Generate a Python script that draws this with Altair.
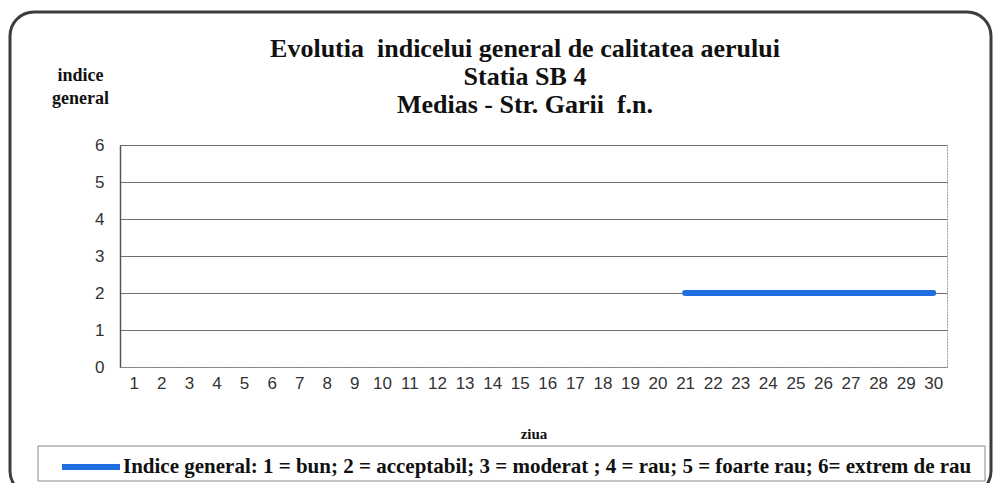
import altair as alt
import pandas as pd

days = list(range(1, 31))
values = [None] * 20 + [2] * 10
series_label = "Indice general: 1 = bun; 2 = acceptabil; 3 = moderat ; 4 = rau; 5 = foarte rau; 6= extrem de rau"
title_lines = ["Evolutia\u00a0 indicelui general de calitatea aerului", "Statia SB 4", "Medias - Str. Garii\u00a0 f.n."]
y_title = ["indice", "general"]
x_title = "ziua"

df = pd.DataFrame({"zi": days, "indice": values, "serie": [series_label] * len(days)})

SERIF = "Liberation Serif"
SANS = "Liberation Sans"

frame = alt.Chart(pd.DataFrame({"a": [0]})).mark_rect(
    fillOpacity=0, stroke="#3c3c3c", strokeWidth=3, cornerRadius=24
).encode(x=alt.value(-110), x2=alt.value(871), y=alt.value(-133), y2=alt.value(350))

legend_box = alt.Chart(pd.DataFrame({"a": [0]})).mark_rect(
    fillOpacity=0, stroke="#8a8a8a", strokeWidth=1
).encode(x=alt.value(-82), x2=alt.value(865), y=alt.value(301), y2=alt.value(336))

title_y = [-96, -68, -40]
title_layers = [
    alt.Chart(pd.DataFrame({"t": [t]})).mark_text(
        font=SERIF, fontSize=26, fontWeight="bold", color="#111", align="center", baseline="middle"
    ).encode(text="t:N", x=alt.value(405), y=alt.value(yy))
    for t, yy in zip(title_lines, title_y)
]

line = alt.Chart(df).mark_line(strokeWidth=6, strokeCap="round").encode(
    x=alt.X(
        "zi:O",
        scale=alt.Scale(domain=days),
        axis=alt.Axis(
            title=x_title, titleFont=SERIF, titleFontSize=15, titleFontWeight="bold",
            titleY=66, titleBaseline="middle", titleColor="#111",
            labelAngle=0, labelFont=SANS, labelFontSize=17, labelColor="#333",
            labelPadding=8, ticks=False, domainColor="#999", domainDash=[2, 1],
            grid=False,
        ),
    ),
    y=alt.Y(
        "indice:Q",
        scale=alt.Scale(domain=[0, 6]),
        axis=alt.Axis(
            title=y_title, titleFont=SERIF, titleFontSize=18, titleFontWeight="bold",
            titleAngle=0, titleAlign="center", titleBaseline="top", titleX=-40, titleY=-79,
            titleLineHeight=23, titleColor="#111",
            values=[0, 1, 2, 3, 4, 5, 6], labelFont=SANS, labelFontSize=17, labelColor="#333",
            labelPadding=16, ticks=False, domainColor="#555", domainWidth=1.5,
            grid=True, gridColor="#6e6e6e", gridWidth=1,
        ),
    ),
    color=alt.Color(
        "serie:N",
        scale=alt.Scale(domain=[series_label], range=["#1f6fe0"]),
        legend=alt.Legend(
            title=None, orient="none", legendX=-61, legendY=290, padding=0,
            symbolType="stroke", symbolSize=3364, symbolStrokeWidth=6,
            labelFont=SERIF, labelFontSize=21, labelFontWeight="bold", labelColor="#111",
            labelLimit=2000, labelOffset=0,
        ),
    ),
)

chart = alt.layer(frame, legend_box, *title_layers, line).properties(
    width=827,
    height=222,
    padding={"left": 112, "top": 137, "right": 46, "bottom": 116},
    autosize=alt.AutoSizeParams(type="none"),
    background="white",
).configure_view(stroke="#999", strokeDash=[2, 1])

chart.save("out.html", embed_options={"renderer": "svg", "actions": False})
